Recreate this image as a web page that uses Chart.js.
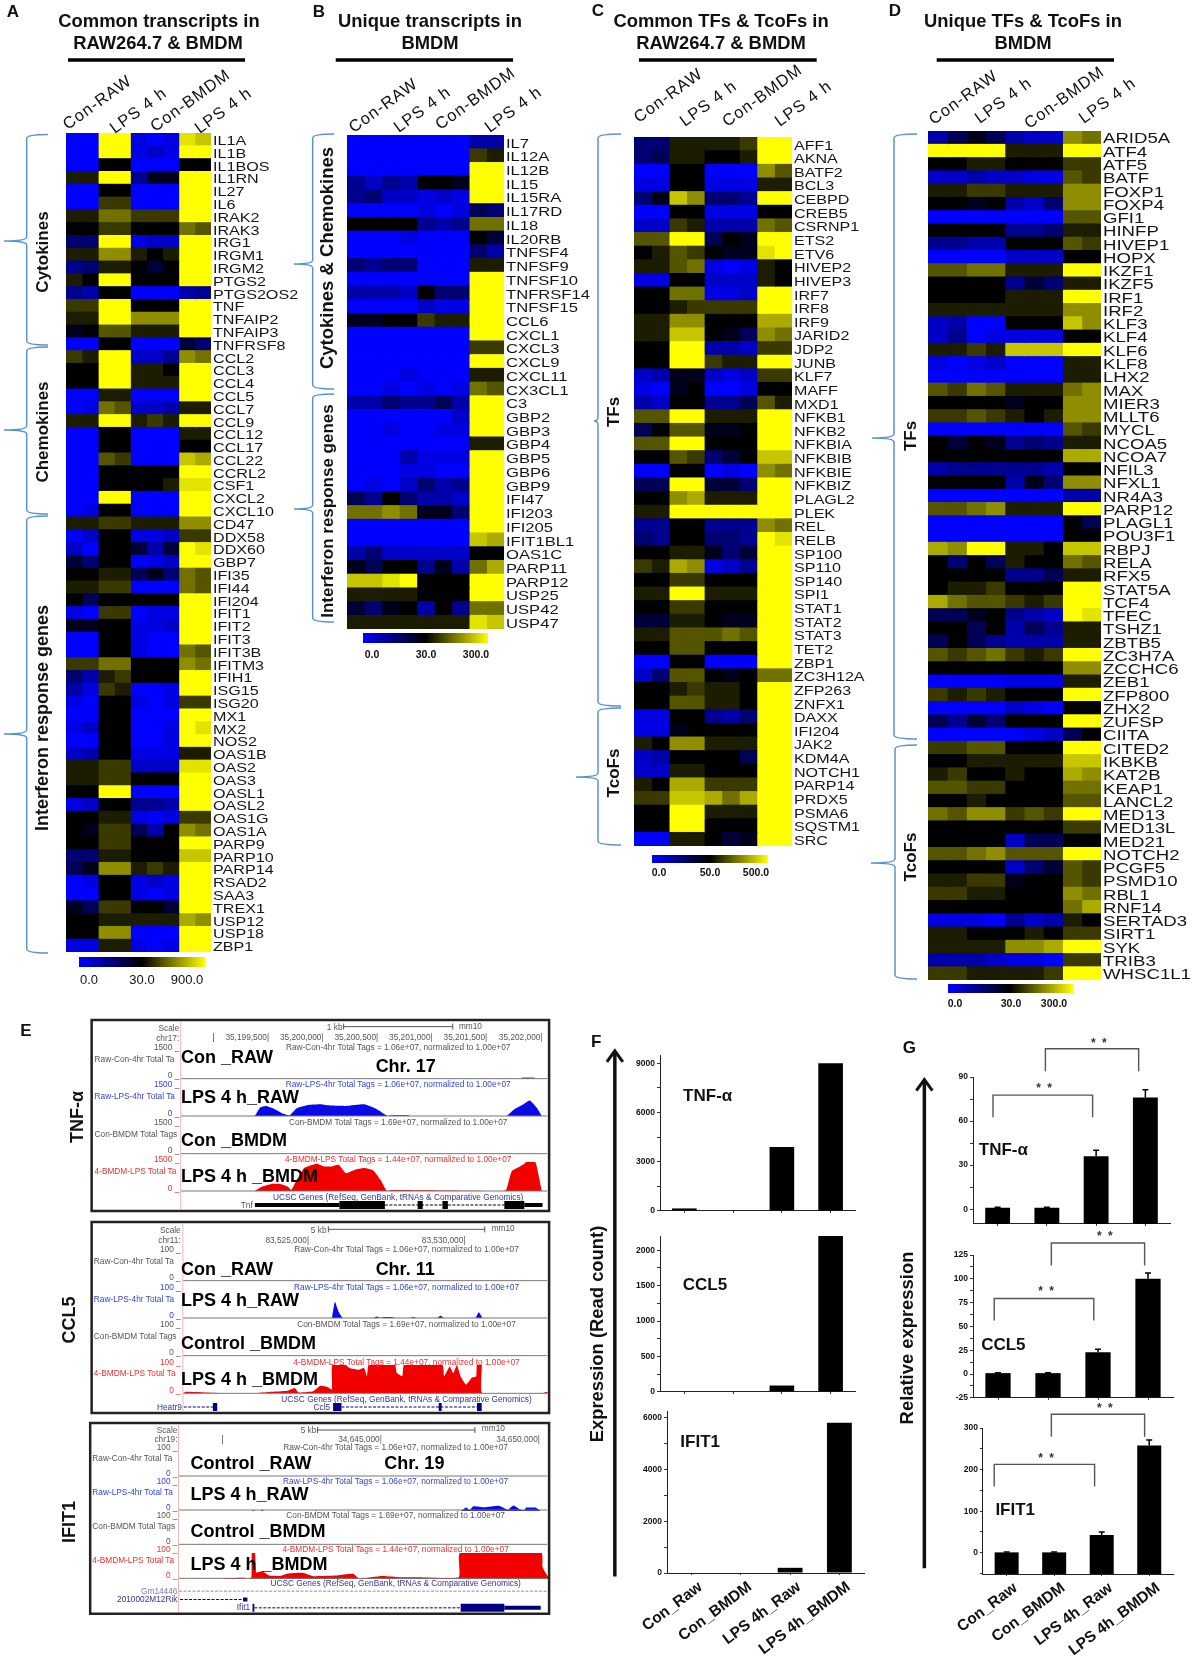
<!DOCTYPE html>
<html><head><meta charset="utf-8">
<script src="https://cdn.jsdelivr.net/npm/chart.js@4"></script>
<style>
html,body{margin:0;padding:0;background:#fff}
#page{position:relative;width:1192px;height:1664px;overflow:hidden;background:#fff;font-family:"Liberation Sans",Arial,sans-serif}
#page canvas{position:absolute;display:block}
#page svg{position:absolute;left:0;top:0;z-index:3}
.t{position:absolute;white-space:nowrap;z-index:5;line-height:1;color:#111}
</style></head><body><div id="page"></div>
<script>
// ---------- DATA ----------
const genesA=["IL1A","IL1B","IL1BOS","IL1RN","IL27","IL6","IRAK2","IRAK3","IRG1","IRGM1","IRGM2","PTGS2","PTGS2OS2","TNF","TNFAIP2","TNFAIP3","TNFRSF8","CCL2","CCL3","CCL4","CCL5","CCL7","CCL9","CCL12","CCL17","CCL22","CCRL2","CSF1","CXCL2","CXCL10","CD47","DDX58","DDX60","GBP7","IFI35","IFI44","IFI204","IFIT1","IFIT2","IFIT3","IFIT3B","IFITM3","IFIH1","ISG15","ISG20","MX1","MX2","NOS2","OAS1B","OAS2","OAS3","OASL1","OASL2","OAS1G","OAS1A","PARP9","PARP10","PARP14","RSAD2","SAA3","TREX1","USP12","USP18","ZBP1"];
const levelsA=[
[-9,-9,9,9,-8,-9,-8,8,7],[-9,-9,9,9,-8,-7,-8,9,9],[-9,-9,0,0,-9,-9,-9,0,0],[1,1,9,9,-5,-1,-1,9,9],[-9,-9,0,0,-9,-9,-9,9,9],[-9,-9,2,2,-9,-9,-9,9,9],[1,1,4,4,2,2,2,9,9],[0,0,2,2,0,0,0,4,3],[-4,-4,9,9,-8,-7,-7,9,9],[1,1,5,5,1,0,1,9,9],[-5,-4,1,1,0,-2,0,9,9],[1,0,9,9,0,0,0,9,9],[-5,-6,0,0,-9,-9,-9,-6,-5],[2,2,9,9,0,0,0,9,9],[1,1,9,9,5,5,5,9,9],[-1,0,3,3,1,1,1,9,9],[-9,-9,0,0,-9,-9,-9,-2,-4],
[2,1,9,9,-7,-7,-5,5,4],[0,0,9,9,1,1,0,9,9],[0,0,9,9,1,1,1,9,9],[-9,-9,1,1,-9,-9,-9,9,9],[-9,-8,4,3,-7,-7,-6,1,1],[1,1,9,9,1,2,1,9,9],[-9,-9,0,0,-9,-9,-9,1,1],[-9,-9,0,0,-9,-9,-9,0,0],[-9,-9,3,2,-9,-9,-9,7,6],[-9,-9,0,0,0,0,0,9,9],[-9,-9,0,0,0,0,1,8,8],[-9,-9,9,9,-9,-9,-9,9,9],[-9,-8,0,0,-9,-9,-9,9,9],
[1,1,2,2,1,1,1,5,5],[-9,-7,0,0,-8,-8,-7,2,2],[-7,-9,0,0,-2,-6,-2,9,8],[-2,-4,0,0,-9,-8,-7,9,9],[0,0,1,1,-3,-1,-4,4,3],[1,1,2,2,-9,-9,-9,4,3],[0,-3,0,0,0,0,0,9,9],[-8,-9,2,2,-9,-8,-8,9,9],[-1,-1,0,0,-8,-8,-7,9,9],[-9,-9,0,0,-8,-9,-9,9,9],[-9,-9,0,0,-8,-9,-9,4,3],[2,2,4,4,0,0,0,5,4],[-4,-6,1,2,0,0,0,9,9],[-6,-8,2,1,-9,-9,-8,9,9],[-8,-9,0,0,-8,-9,-8,2,2],[-9,-9,0,0,-9,-9,-9,9,9],[-8,-7,0,0,-9,-9,-8,9,8],[-9,-9,0,0,-9,-9,-8,9,9],[-7,-6,0,0,-8,-8,-8,1,1],[1,1,2,2,-7,-7,-7,8,8],[1,1,2,2,0,0,0,9,9],[0,0,9,9,-9,-9,-9,9,9],[-8,-7,0,0,-5,-5,-6,9,9],[0,0,1,1,-8,-9,-8,2,2],[0,-1,2,2,-3,-6,0,5,4],[0,0,2,2,0,0,0,9,9],[-4,-4,1,1,0,0,0,7,7],[-3,-1,5,5,1,2,1,9,9],[-9,-8,0,0,-8,-7,-8,9,9],[-9,-9,0,0,-8,-9,-8,9,9],[-1,-3,2,2,0,0,-2,9,9],[0,0,1,1,1,1,1,6,5],[0,0,5,5,-9,-9,-9,9,9],[-8,-8,1,1,-8,-9,-8,9,9]];
const genesB=["IL7","IL12A","IL12B","IL15","IL15RA","IL17RD","IL18","IL20RB","TNFSF4","TNFSF9","TNFSF10","TNFRSF14","TNFSF15","CCL6","CXCL1","CXCL3","CXCL9","CXCL11","CX3CL1","C3","GBP2","GBP3","GBP4","GBP5","GBP6","GBP9","IFI47","IFI203","IFI205","IFIT1BL1","OAS1C","PARP11","PARP12","USP25","USP42","USP47"];
const levelsB=[
[-9,-9,-9,-9,-9,-9,-9,-6,-6],[-9,-9,-9,-9,-9,-9,-9,2,1],[-9,-9,-9,-9,-9,-9,-9,9,9],[-5,-7,-5,-6,0,0,-1,9,9],[-5,-4,-7,-7,-8,-7,-8,9,9],[-9,-9,-9,-9,-8,-9,-8,-3,-4],[0,0,0,0,-5,-6,-5,4,4],[-9,-9,-9,-8,-9,-9,-9,0,-2],[-9,-9,-9,-9,-9,-9,-9,-4,-6],[-4,-5,-4,-4,-9,-9,-9,1,1],[-9,-9,-9,-9,-9,-9,-9,9,9],[-6,-6,-6,-7,0,-4,-4,9,9],[-9,-9,-9,-9,-7,-8,-8,9,9],[-1,-1,0,0,2,1,1,9,9],[-9,-9,-9,-9,-9,-9,-9,9,9],[-9,-9,-9,-9,-9,-9,-9,2,2],[-9,-9,-9,-9,-9,-9,-9,9,9],[-9,-9,-9,-8,-9,-9,-9,1,1],[-9,-9,-8,-9,-8,-9,-8,4,3],
[-6,-6,-4,-5,-5,-3,-6,9,9],[-9,-9,-9,-9,-9,-9,-7,9,9],[-9,-9,-8,-9,-9,-8,-8,9,9],[-9,-9,-9,-9,-9,-9,-9,1,1],[-9,-9,-9,-6,-8,-8,-8,9,9],[-9,-9,-9,-8,-8,-9,-9,9,9],[-9,-8,-9,-7,-4,-6,-5,9,9],[-3,-5,0,-4,-6,-6,-7,9,9],[4,4,5,4,-1,-1,-4,9,9],[-9,-9,-9,-9,-9,-9,-9,9,9],[-9,-9,-9,-9,-9,-9,-9,7,6],[-6,-4,-7,-7,-7,-7,-7,0,0],[-1,-3,0,0,-5,-1,-6,4,6],[7,7,8,9,0,0,0,9,9],[1,1,1,1,0,0,0,9,9],[-2,-4,-1,0,-6,0,-5,4,4],[1,1,1,1,1,1,1,8,7]];
const genesC=["AFF1","AKNA","BATF2","BCL3","CEBPD","CREB5","CSRNP1","ETS2","ETV6","HIVEP2","HIVEP3","IRF7","IRF8","IRF9","JARID2","JDP2","JUNB","KLF7","MAFF","MXD1","NFKB1","NFKB2","NFKBIA","NFKBIB","NFKBIE","NFKBIZ","PLAGL2","PLEK","REL","RELB","SP100","SP110","SP140","SPI1","STAT1","STAT2","STAT3","TET2","ZBP1","ZC3H12A","ZFP263","ZNFX1","DAXX","IFI204","JAK2","KDM4A","NOTCH1","PARP14","PRDX5","PSMA6","SQSTM1","SRC"];
const levelsC=[
[-4,-4,1,1,1,1,2,9,9],[-4,-3,1,1,0,0,1,9,9],[-9,-9,0,0,-9,-9,-9,5,3],[-8,-8,0,0,-8,-8,-8,1,1],[-4,-1,7,5,-4,-4,-5,9,9],[-9,-9,0,0,-8,-8,-8,0,0],[-7,-7,2,1,-6,-6,-6,4,3],[3,3,9,9,-3,0,-1,9,9],[0,1,3,2,0,-1,-1,8,9],[1,1,3,4,-8,-9,-8,1,0],[-8,-8,0,0,-7,-7,-7,1,0],[0,0,4,4,-8,-8,-7,9,9],[0,0,1,2,2,2,2,9,9],[1,1,5,5,0,0,0,6,6],[1,1,7,7,0,-1,-3,5,4],[0,0,9,9,-6,-6,-7,2,2],[0,0,9,9,2,1,1,9,9],[-7,-6,-1,-1,-7,-8,-7,2,2],[-8,-9,-1,0,-9,-9,-8,0,0],[-6,-7,0,0,-5,-5,-3,3,1],[3,3,9,9,1,1,1,9,9],[-3,0,3,3,-1,-1,0,9,9],[3,3,9,9,0,0,0,9,9],[0,0,3,2,-4,-2,0,7,7],[-9,-9,0,0,-9,-8,-9,5,4],[-3,-3,9,9,-2,-2,-4,9,9],[0,0,5,6,1,1,1,9,9],[1,1,9,9,9,9,9,9,9],[-5,-5,0,0,-5,-5,-5,5,4],[-4,-5,0,0,-4,-4,-5,9,8],[0,0,1,1,-1,-4,-2,9,9],[2,1,6,5,-8,-7,-5,9,9],[0,0,2,2,0,0,0,9,9],[1,1,9,9,1,1,1,9,9],[0,0,2,2,0,0,0,9,9],[-2,-2,1,1,0,-1,-1,9,9],[1,1,3,3,3,4,3,9,9],[0,0,3,3,0,0,0,9,9],[-9,-9,0,0,-9,-9,-9,9,9],[-7,-4,3,3,0,-1,0,4,4],[0,0,1,2,1,1,0,9,9],[0,0,3,3,1,1,0,9,9],
[-8,-8,0,0,-5,-6,-4,9,9],[-8,-8,-1,0,0,0,0,9,9],[1,0,5,5,1,1,1,9,9],[-7,-6,0,0,0,0,-3,9,9],[-7,-7,1,1,0,0,0,9,9],[1,0,6,6,2,2,2,9,9],[2,2,7,7,6,4,6,9,9],[0,0,9,9,1,1,1,9,9],[0,0,9,9,0,0,0,9,9],[-9,-9,1,1,0,-2,-1,9,9]];
const genesD=["ARID5A","ATF4","ATF5","BATF","FOXP1","FOXP4","GFI1","HINFP","HIVEP1","HOPX","IKZF1","IKZF5","IRF1","IRF2","KLF3","KLF4","KLF6","KLF8","LHX2","MAX","MIER3","MLLT6","MYCL","NCOA5","NCOA7","NFIL3","NFXL1","NR4A3","PARP12","PLAGL1","POU3F1","RBPJ","RELA","RFX5","STAT5A","TCF4","TFEC","TSHZ1","ZBTB5","ZC3H7A","ZCCHC6","ZEB1","ZFP800","ZHX2","ZUFSP","CIITA","CITED2","IKBKB","KAT2B","KEAP1","LANCL2","MED13","MED13L","MED21","NOTCH2","PCGF5","PSMD10","RBL1","RNF14","SERTAD3","SIRT1","SYK","TRIB3","WHSC1L1"];
const levelsD=[
[-6,-3,-1,-3,-6,-7,-7,5,4],[9,9,9,9,1,1,1,9,9],[0,0,1,1,0,0,0,2,2],[-7,-7,-6,-7,-7,-8,-8,3,2],[1,1,2,2,1,1,1,5,5],[0,0,-1,0,-6,-7,-4,5,5],[-9,-9,-9,-9,-9,-9,-9,3,3],[0,0,0,0,-5,-5,-4,1,1],[-5,-5,-6,-6,0,0,0,3,2],[-9,-9,-9,-9,-7,-7,-7,0,0],[3,3,4,4,1,1,1,9,9],[0,0,0,0,-5,-2,-4,1,1],[0,0,0,0,1,1,1,9,9],[1,1,1,1,1,1,1,5,5],[-7,-6,-9,-9,0,0,0,7,5],[-7,-5,-9,-8,-8,-8,-8,0,0],[1,1,2,1,7,7,7,9,9],[-8,-9,-8,-7,-9,-9,-9,1,1],[-9,-9,-9,-9,-9,-9,-9,1,1],[3,2,4,3,1,1,1,4,5],[0,0,0,0,-1,0,0,5,5],[2,2,3,2,1,0,1,5,5],[-9,-9,-9,-9,-9,-9,-9,3,2],[0,-2,0,-1,-5,-4,-5,1,1],[0,0,0,0,0,0,0,6,6],[-6,-5,-5,-5,-5,-5,-6,0,0],[0,0,0,0,-6,-1,-4,5,5],[-9,-9,-9,-9,-9,-9,-9,-6,-6],[3,3,4,5,1,1,1,9,9],[-9,-9,-9,-9,-9,-9,-9,0,-3],[-9,-9,-9,-9,-9,-9,-9,0,0],[6,5,9,9,1,1,0,7,7],[0,-4,0,-3,1,0,0,4,3],[0,0,0,0,-5,-5,-3,1,1],[0,1,1,2,0,0,0,9,9],[6,4,3,3,2,1,2,9,9],[-3,-3,-1,0,-5,-6,-7,9,8],[0,0,-3,0,-6,-3,-5,1,1],[-3,0,-3,-5,-6,-6,-6,1,1],[3,2,3,4,2,1,2,9,9],[0,0,0,0,0,0,0,5,5],[-9,-9,-9,-9,-8,-8,-8,1,1],[2,1,2,1,0,0,0,9,9],[-9,-9,-9,-9,-7,-8,-9,0,0],[-3,-5,-2,-4,0,0,0,9,9],[-9,-9,-9,-9,-9,-8,-7,-3,0],
[2,2,3,3,0,0,0,9,9],[0,0,1,1,1,1,1,7,7],[1,2,0,0,1,0,0,6,5],[3,3,2,2,0,0,0,4,4],[0,0,1,0,0,0,0,3,3],[4,3,5,5,2,3,2,9,9],[0,0,0,0,0,0,0,2,2],[0,0,0,0,-7,-3,-3,0,0],[3,3,4,5,3,3,3,9,9],[0,0,0,0,-7,-4,-2,3,2],[1,1,2,2,-1,0,0,3,2],[2,2,1,1,0,0,0,5,4],[0,0,0,0,0,0,0,4,6],[-8,-8,-8,-9,-5,-7,-6,1,0],[1,1,0,0,0,1,0,2,2],[1,1,1,1,5,5,6,9,9],[-6,-6,-6,-7,-8,-8,-9,2,2],[2,2,1,1,1,1,2,9,9]];

const sampleLabels=["Con_Raw","Con_BMDM","LPS 4h_Raw","LPS 4h_BMDM"];
const readTnf=[150,30,3900,9000], readCcl5=[0,0,90,2200], readIfit1=[0,0,200,5800];
const relTnf=[1,1,36,76], relTnfErr=[0.3,0.3,4.2,5.3];
const relCcl5=[1,1,23,100], relCcl5Err=[0.5,0.5,3,6];
const relIfit1=[1,1,43,258], relIfit1Err=[1,1,7,13];
const ticksReadTnf=[0,1500,3000,4500,6000,7500,9000], ticksReadCcl5=[0,250,500,750,1000,1250,1500,1750,2000], ticksReadIfit1=[0,1000,2000,3000,4000,5000,6000];
const ticksRelTnf=[0,15,30,45,60,75,90], ticksRelCcl5=[-25,-12.5,0,12.5,25,37.5,50,62.5,75,87.5,100,112.5,125], ticksRelIfit1=[-50,0,50,100,150,200,250,300];

const tnfBlueX=[203,218,233,253,278,298,318,353,383,413,453,503,533,563,568,583,623,628,893,913,938,958,978,991];
const tnfBlueY=[0,453,523,401,140,35,401,576,610,541,523,610,401,52,0,35,35,0,0,314,576,802,401,0];
const tnfRedX=[203,223,248,273,293,303,318,338,353,373,393,413,433,453,478,503,528,548,563,568,578,883,893,908,923,943,948,973,981,991];
const tnfRedY=[0,227,366,366,227,52,576,1186,1308,1413,1273,1273,1360,924,1099,1186,1064,576,52,0,52,0,52,1012,1186,1413,1500,1500,924,0];
const ccl5BlueX=[409,417,427,439,522,532,542,552,572,582,622,632,642,697,707,717,802,812,822];
const ccl5BlueY=[0,56,22,0,0,5,0,3.5,3.5,0,0,3.5,0,0,8,0,0,20,0];
const ccl5RedX=[0,7,57,117,197,237,287,307,317,357,377,397,409,410,447,457,482,497,505,510,582,587,602,607,712,717,732,742,752,762,777,792,805,807,820,822,987,997,1002];
const ccl5RedY=[0,4,2,0,0,4,8,18,2,6,26,21,12,100,100,89,83,89,60,100,100,71,60,100,100,60,95,71,100,60,30,54,60,100,100,0,0,4,2];
const ifitBlueX=[200,204,208,224,229,234,374,377,381,774,789,799,809,839,879,904,919,934,949,954,979,994];
const ifitBlueY=[0,5,0,0,5,0,0,4,0,0,13,4,18,14,20,5,21,9,3,13,13,0];
const ifitRedX=[119,124,179,189,199,200,209,212,229,249,279,299,339,369,429,479,494,559,609,659,769,772,996,999,1009,1014];
const ifitRedY=[0,3,5,0,7,100,100,26,29,13,12,21,24,11,13,20,3,12,7,7,7,100,100,46,20,9];

// gene models: [start, end, row, kind] along the browser window
const tnfGene=[[560,888,0,"intron"],[203,435,0,"utr"],[435,560,0,"exon"],[650,664,0,"exon"],[718,733,0,"exon"],[888,943,0,"exon"],[943,993,0,"utr"]];
const ccl5Gene=[[2,82,0,"intron"],[82,94,0,"exon"],[435,817,0,"intron"],[412,435,0,"exon"],[702,710,0,"exon"],[807,820,0,"exon"]];
const ifitGene=[[0,1014,0,"intron"],[3,176,1,"intron"],[176,188,1,"utr"],[207,774,2,"intron"],[202,207,2,"exon"],[774,894,2,"exon"],[894,994,2,"utr"]];

// ---------- HELPERS ----------
const page=document.getElementById('page');
const ZX=2.75;                           // browser-panel horizontal reading scale
const fx=z=>570+z/2.52, fy=z=>1020+z/2.435; // panels F, G reading scale
Chart.defaults.animation=false;
Chart.defaults.responsive=false;
Chart.defaults.devicePixelRatio=1;
Chart.defaults.font.family='"Liberation Sans",Arial,sans-serif';
Chart.defaults.plugins.legend.display=false;
Chart.defaults.plugins.tooltip.enabled=false;

function cv(x,y,w,h){
  const c=document.createElement('canvas');
  const X=Math.round(x),Y=Math.round(y);
  c.width=Math.ceil(w);c.height=Math.ceil(h);
  c.style.left=X+'px';c.style.top=Y+'px';
  c.style.width=c.width+'px';c.style.height=c.height+'px';
  page.appendChild(c);
  return c;
}
function T(x,y,s,o={}){
  const d=document.createElement('div');d.className='t';d.textContent=s;
  const a=o.a||'c';
  const tr=a==='c'?'translate(-50%,-50%)':a==='r'?'translate(-100%,-50%)':'translate(0,-50%)';
  d.style.left=x+'px';d.style.top=y+'px';
  d.style.transform=tr+(o.rot?` rotate(${o.rot}deg)`:'')+(o.sx?` scaleX(${o.sx})`:'');
  d.style.fontSize=(o.fs||12)+'px';
  d.style.fontWeight=o.w||'normal';
  if(o.c)d.style.color=o.c;
  if(o.ls)d.style.letterSpacing=o.ls+'px';
  if(o.ws)d.style.wordSpacing=o.ws+'px';
  page.appendChild(d);
}
function levelColor(v){
  const k=Math.min(1,Math.abs(v)/9);
  return v<0?`rgb(0,0,${Math.round(255*k)})`:`rgb(${Math.round(255*k)},${Math.round(255*k)},0)`;
}
const stretchLabels={id:'stretchLabels',afterDraw(ch,a,opts){
  const s=ch.scales.y,ctx=ch.ctx;
  ctx.save();ctx.font=opts.font;ctx.fillStyle='#151515';ctx.textBaseline='middle';ctx.textAlign='left';
  s.getLabels().forEach((lab,i)=>{
    ctx.save();
    ctx.translate(ch.chartArea.right+opts.pad,s.getPixelForValue(i)+opts.dy);
    ctx.scale(opts.sx,1);
    ctx.fillText(lab,0,0);
    ctx.restore();
  });
  ctx.restore();
}};
function heatmap(x0,x1,y0,y1,genes,rows,font,sx,dy,pad){
  const lw=110;
  const c=cv(x0,y0,x1-x0+lw,y1-y0);
  const n=rows[0].length;
  new Chart(c,{type:'bar',plugins:[stretchLabels],data:{labels:genes,datasets:Array.from({length:n},(_,j)=>({
    data:rows.map(()=>[j,j+1]),
    backgroundColor:rows.map(r=>levelColor(r[j])),
    borderWidth:0,grouped:false,barPercentage:1,categoryPercentage:1,inflateAmount:0.4
  }))},options:{indexAxis:'y',layout:{padding:{right:lw},autoPadding:false},
    scales:{x:{type:'linear',min:0,max:n,display:false},y:{type:'category',display:false}},
    plugins:{stretchLabels:{font,sx,dy,pad}}}});
}
const errorBars={id:'errorBars',afterDatasetsDraw(ch,a,opts){
  if(!opts.errs)return;
  const y=ch.scales.y,ctx=ch.ctx,meta=ch.getDatasetMeta(0),vals=ch.data.datasets[0].data;
  ctx.save();ctx.strokeStyle='#000';ctx.lineWidth=1.5;
  opts.errs.forEach((e,i)=>{
    const px=meta.data[i].x,p0=y.getPixelForValue(vals[i]),p1=y.getPixelForValue(vals[i]+e);
    ctx.beginPath();ctx.moveTo(px,p0);ctx.lineTo(px,p1);ctx.moveTo(px-3,p1);ctx.lineTo(px+3,p1);ctx.stroke();
  });
  ctx.restore();
}};
function barPanel(o){
  const padL=34,padT=8,padR=6,xh=o.showX?88:6;
  const c=cv(o.left-padL,o.top-padT,o.right-o.left+padL+padR,o.bottom-o.top+padT+xh);
  new Chart(c,{type:'bar',plugins:[errorBars],data:{labels:sampleLabels,datasets:[{
    data:o.values,backgroundColor:'#000',borderWidth:0,barPercentage:0.505,categoryPercentage:1,
    base:o.base===undefined?0:o.base}]},
    options:{layout:{autoPadding:false,padding:{left:0,top:padT,right:padR,bottom:0}},
    plugins:{errorBars:{errs:o.errs}},
    scales:{
      x:{type:'category',afterFit:s=>{s.height=xh},
        grid:{display:true,drawOnChartArea:false,drawTicks:true,tickLength:2,tickColor:'#333',offset:false},
        border:{color:'#222',width:1},
        ticks:{display:!!o.showX,autoSkip:false,minRotation:37,maxRotation:37,padding:3,labelOffset:9,color:'#111',font:{size:15.5,weight:'bold'}}},
      y:{type:'linear',min:o.min,max:o.max,afterFit:s=>{s.width=padL},
        afterBuildTicks:s=>{s.ticks=o.ticks.map(v=>({value:v}))},
        grid:{display:true,drawOnChartArea:false,drawTicks:true,tickLength:3,tickColor:'#333'},
        border:{color:'#222',width:1},
        ticks:{autoSkip:false,padding:2,color:'#111',font:{size:8.5,weight:'bold'},
          callback:v=>(Math.abs(v%o.labelStep)<1e-6?String(v):'')}}
    }}});
}
function track(zx0,zx1,base,h,off,xs,ys,max,col){
  const x=zx0/ZX,w=(zx1-zx0)/ZX,top=off+(base-h)/3;
  const c=cv(x,top-1,w,h/3+1);
  const pts=xs.map((v,i)=>({x:v,y:ys[i]}));
  new Chart(c,{type:'line',data:{datasets:[
    {data:pts,borderWidth:0,pointRadius:0,fill:'origin',backgroundColor:col,tension:0.15,clip:false},
    {data:xs.map((v,i)=>({x:v,y:ys[i]>=max?max:null})),borderColor:'#f028e0',borderWidth:1.5,pointRadius:0,fill:false,spanGaps:false}
  ]},options:{layout:{autoPadding:false,padding:{top:1}},scales:{x:{type:'linear',min:0,max:zx1-zx0,display:false},y:{type:'linear',min:0,max:max,display:false}}}});
}
function gene(zx0,zx1,yTop,yBot,rows,segs,colFor){
  const c=cv(zx0/ZX,yTop,(zx1-zx0)/ZX,yBot-yTop);
  const W={intron:1,utr:4,exon:8};
  new Chart(c,{type:'line',data:{datasets:segs.map(s=>({
    data:[{x:s[0],y:s[2]},{x:s[1],y:s[2]}],borderColor:colFor(s),borderWidth:W[s[3]],pointRadius:0,
    borderDash:s[3]==='intron'?[3,1.5]:[],borderCapStyle:'butt',clip:false}))},
    options:{layout:{autoPadding:false},scales:{x:{type:'linear',min:0,max:zx1-zx0,display:false},y:{type:'linear',reverse:true,min:-0.5,max:rows-0.5,display:false}}}});
}

// ---------- HEATMAPS ----------
heatmap(66,211,133.3,952,genesA,levelsA,'13px "Liberation Sans"',1.24,2,2);
heatmap(346.7,503.3,134.7,628,genesB,levelsB,'13.5px "Liberation Sans"',1.23,2,2);
heatmap(634,791.7,137,845.3,genesC,levelsC,'13.5px "Liberation Sans"',1.19,2,2);
heatmap(927.7,1100,130.7,979.3,genesD,levelsD,'14px "Liberation Sans"',1.33,2,2);

// ---------- BAR PANELS ----------
barPanel({left:fx(228),right:fx(718),top:fy(85),bottom:fy(466),min:0,max:9500,ticks:ticksReadTnf,labelStep:3000,values:readTnf});
barPanel({left:fx(228),right:fx(718),top:fy(527),bottom:fy(907),min:0,max:2200,ticks:ticksReadCcl5,labelStep:500,values:readCcl5});
barPanel({left:fx(233),right:fx(741),top:fy(952),bottom:fy(1346),min:0,max:6250,ticks:ticksReadIfit1,labelStep:2000,values:readIfit1,showX:true});
barPanel({left:fx(1015),right:fx(1510),top:fy(138),bottom:fy(496),min:-10,max:90,ticks:ticksRelTnf,labelStep:30,values:relTnf,errs:relTnfErr,base:-10});
barPanel({left:fx(1015),right:fx(1517),top:fy(572),bottom:fy(921),min:-25,max:125,ticks:ticksRelCcl5,labelStep:25,values:relCcl5,errs:relCcl5Err,base:-25});
barPanel({left:fx(1025),right:fx(1517),top:fy(993),bottom:fy(1348),min:-51,max:300,ticks:ticksRelIfit1,labelStep:100,values:relIfit1,errs:relIfit1Err,base:-51,showX:true});

// ---------- BROWSER TRACKS ----------
track(497,1505,318,86,1010,tnfBlueX,tnfBlueY,1500,'#0a0ae6');
track(497,1505,543,86,1010,tnfRedX,tnfRedY,1500,'#f20000');
track(503,1505,924,86,1010,ccl5BlueX,ccl5BlueY,100,'#0a0ae6');
track(503,1505,1150,84,1010,ccl5RedX,ccl5RedY,100,'#f20000');
track(491,1505,330,76,1400,ifitBlueX,ifitBlueY,100,'#0a0ae6');
track(491,1505,535,76,1400,ifitRedX,ifitRedY,100,'#f20000');
gene(497,1505,1199.5,1209.5,1,tnfGene,()=>'#000');
gene(503,1505,1402,1412,1,ccl5Gene,()=>'#000080');
gene(491,1505,1586.5,1611.5,3,ifitGene,s=>s[2]===0?'#8a8ac8':'#000080');

// ---------- OVERLAY LINES ----------
const NS='http://www.w3.org/2000/svg';
const svg=document.createElementNS(NS,'svg');svg.setAttribute('width',1192);svg.setAttribute('height',1664);page.appendChild(svg);
function P(d,st,w,fill){const p=document.createElementNS(NS,'path');p.setAttribute('d',d);p.setAttribute('stroke',st);p.setAttribute('stroke-width',w);p.setAttribute('fill',fill||'none');svg.appendChild(p);}
function brace(xv,xTip,xApex,y0,y1,ya){
  P(`M${xTip},${y0} Q${xv},${y0} ${xv},${y0+4} L${xv},${ya-4} Q${xv},${ya} ${xApex},${ya} Q${xv},${ya} ${xv},${ya+4} L${xv},${y1-4} Q${xv},${y1} ${xTip},${y1}`,'#5b93cf',1.5);
}
brace(26.7,48,4,134.5,345,241);brace(26.7,48,4,347,514,430);brace(26.7,48,4,516,953,734);
brace(312.7,334,294,134,389,264);brace(312.7,334,294,394,622,509);
brace(598,621,594,134,706,421);brace(598,621,576,708,845,777);
brace(894,917,872,134,739,438);brace(895,917,871,745,979,863);

// header rules
[[68,245,60],[335.7,513,60],[639,816.7,60],[936.7,1114,60]].forEach(r=>P(`M${r[0]},${r[2]} L${r[1]},${r[2]}`,'#000',3.5));

// browser frames and baselines
[[252/ZX,1020,1258/ZX,191],[252/ZX,1222,1258/ZX,191],[248/ZX,1423,1262/ZX,190.7]].forEach(r=>P(`M${r[0]},${r[1]} h${r[2]} v${r[3]} h${-r[2]} Z`,'#222',2.5));
[[497,1010,[206,318,431,543]],[503,1010,[812,924,1037,1150]],[491,1400,[228,330,433,535]]].forEach(b=>{
  const x0=b[0]/ZX,off=b[1];
  b[2].forEach(y=>P(`M${x0},${off+y/3} L${1505/ZX},${off+y/3}`,'#777',1));
});
P(`M${497/ZX},1022 V1209`,'#f7b5b5',1);P(`M${503/ZX},1224 V1411`,'#f7b5b5',1);P(`M${491/ZX},1425 V1612`,'#f7b5b5',1);
// scale bars
function sbar(a,b,y){P(`M${a},${y} H${b} M${a},${y-3} V${y+3} M${b},${y-3} V${y+3}`,'#555',1);}
sbar(945/ZX,1245/ZX,1010+50/3);sbar(903/ZX,1333/ZX,1010+658/3);sbar(873/ZX,1306/ZX,1400+90/3);
P(`M${1435/ZX},${1010+204/3} H${1470/ZX}`,'#555',1);

// arrows
function arrow(x,y1,y0){P(`M${x},${y1} V${y0+2}`,'#111',3.5);P(`M${x-8},${y0+11} L${x},${y0} L${x+8},${y0+11}`,'#111',3);}
arrow(fx(113),fy(1355),fy(75));arrow(fx(893),fy(1335),fy(145));

// significance brackets
function sig(a,b,c,d){P(`M${fx(a)},${fy(b)} V${fy(d)} H${fx(c)} V${fy(b)}`,'#555',1.4);}
sig(1198,125,1433,70);sig(1066,237,1317,183);sig(1213,598,1448,543);sig(1069,732,1320,678);sig(1213,1015,1448,960);sig(1069,1136,1322,1082);

// ---------- TEXT ----------
[["A",13,11],["B",319,11],["C",598,10],["D",895,10],["E",26,1030],["F",fx(66),fy(52)],["G",fx(855),fy(65)]].forEach(l=>T(l[1],l[2],l[0],{fs:17,w:'bold'}));
function head(x,y,s){T(x,y,s,{fs:18.4,w:'bold'});}
head(159,21,"Common transcripts in");head(158,43,"RAW264.7 & BMDM");
head(430,21,"Unique transcripts in");head(430,43,"BMDM");
head(721,21,"Common TFs & TcoFs in");head(721,43,"RAW264.7 & BMDM");
head(1023,21,"Unique TFs & TcoFs in");head(1023,43,"BMDM");

function cols(list){list.forEach(c=>T(c[1],c[2],c[0],{fs:16.5,rot:-36,ls:1}));}
cols([["Con-RAW",97,102],["LPS 4 h",138,110],["Con-BMDM",190,100],["LPS 4 h",223,110]]);
cols([["Con-RAW",383,105],["LPS 4 h",422,108.6],["Con-BMDM",475,97.6],["LPS 4 h",513,109.4]]);
cols([["Con-RAW",668,95],["LPS 4 h",708,103],["Con-BMDM",762,95],["LPS 4 h",803,103]]);
cols([["Con-RAW",963,97],["LPS 4 h",1003,100],["Con-BMDM",1064,97],["LPS 4 h",1107,100]]);

const vert=(x,y,s,fs,w)=>T(x,y,s,{fs:fs,w:w||'bold',rot:-90});
vert(41.7,252,"Cytokines",17);vert(41.7,432,"Chemokines",17);vert(41.7,718,"Interferon response genes",18);
vert(327,258,"Cytokines & Chemokines",18.5);vert(327,511,"Interferon response genes",17);
vert(613,412,"TFs",17);vert(613,773,"TcoFs",17);vert(910,436,"TFs",17);vert(910,857,"TcoFs",17);

// colour bars
function cbar(x0,x1,y0,y1,labs,ly,fs,w){
  const d=document.createElement('div');
  d.style.cssText=`position:absolute;left:${x0}px;top:${y0}px;width:${x1-x0}px;height:${y1-y0}px;background:linear-gradient(90deg,#0000ff 0%,#000 50%,#ffff00 100%)`;
  page.appendChild(d);
  labs.forEach(l=>T(l[1],ly,l[0],{fs,w}));
}
cbar(79.3,205,956.7,967,[["0.0",89],["30.0",142],["900.0",187]],979,13,'normal');
cbar(363,487.7,633,643,[["0.0",372],["30.0",426],["300.0",476]],654,10.5,'bold');
cbar(651.7,768,855,862.7,[["0.0",659],["50.0",710],["500.0",756]],871.7,10.5,'bold');
cbar(948,1073,984,993.3,[["0.0",955],["30.0",1011],["300.0",1054]],1003,10.5,'bold');

// panel E text
const GREY='#555',BLUE='#3344e0',RED='#ee3030',NAVY='#333399';
const small=(o,zx,zy,s,c,a)=>T(zx/ZX,o+zy/3,s,{fs:8.3,c:c||GREY,a:a||'c'});
const big=(o,zx,zy,s)=>T(zx/ZX,o+zy/3,s,{fs:18,w:'bold',a:'l',c:'#000'});
const titles=["Raw-Con-4hr Total Tags = 1.06e+07, normalized to 1.00e+07","Raw-LPS-4hr Total Tags = 1.06e+07, normalized to 1.00e+07","Con-BMDM Total Tags = 1.69e+07, normalized to 1.00e+07","4-BMDM-LPS Total Tags = 1.44e+07, normalized to 1.00e+07"];
const ucsc="UCSC Genes (RefSeq, GenBank, tRNAs & Comparative Genomics)";
const trackNames=["Raw-Con-4hr Total Ta","Raw-LPS-4hr Total Ta","Con-BMDM Total Tags","4-BMDM-LPS Total Ta"];
const trackCols=[GREY,BLUE,GREY,RED];
function box(o,rx,lx,cx,yTop,yLab,yZero,yTitle,yUcsc,maxLab,chr,yScale,yChr){
  small(o,rx,yScale,"Scale",GREY,'r');small(o,rx,yChr,chr,GREY,'r');
  for(let i=0;i<4;i++){
    small(o,rx,yTop[i],maxLab+" _",trackCols[i],'r');
    small(o,lx,yLab[i],trackNames[i],trackCols[i],'l');
    small(o,rx,yZero[i],"0 _",trackCols[i],'r');
    small(o,cx,yTitle[i],titles[i],trackCols[i]);
  }
  small(o,cx,yUcsc,ucsc,NAVY);
}
box(1010,493,260,1095,[110,223,335,447],[146,259,372,483],[196,308,420,533],[110,222,335,447],560,"1500","chr17:",55,83);
small(1010,942,52,"1 kb",GREY,'r');small(1010,1262,48,"mm10",GREY,'l');
small(1010,590,82,"|",'#333','r');
[["35,199,500|",740],["35,200,000|",890],["35,200,500|",1040],["35,201,000|",1190],["35,201,500|",1340],["35,202,000|",1492]].forEach(t=>small(1010,t[1],82,t[0],GREY,'r'));
small(1010,695,584,"Tnf",GREY,'r');
big(1010,498,140,"Con _RAW");big(1010,1033,168,"Chr. 17");big(1010,498,262,"LPS 4 h_RAW");big(1010,498,390,"Con _BMDM");big(1010,498,498,"LPS 4 h _BMDM");

box(1010,497,258,1118,[717,830,942,1055],[754,866,978,1090],[802,915,1027,1140],[717,830,942,1055],1167,"100","chr11:",661,690);
small(1010,898,660,"5 kb",GREY,'r');small(1010,1352,655,"mm10",GREY,'l');
small(1010,850,690,"83,525,000|",GREY,'r');small(1010,1280,690,"83,530,000|",GREY,'r');
small(1010,500,1191,"Heatr9",NAVY,'r');small(1010,908,1191,"Ccl5",NAVY,'r');
big(1010,498,778,"Con _RAW");big(1010,1033,778,"Chr. 11");big(1010,498,870,"LPS 4 h_RAW");big(1010,498,1000,"Control _BMDM");big(1010,498,1108,"LPS 4 h _BMDM");

box(1400,488,254,1088,[142,244,346,448],[174,276,378,481],[219,321,424,525],[142,244,346,448],550,"100","chr19:",91,118);
small(1400,870,89,"5 kb",GREY,'r');small(1400,1325,85,"mm10",GREY,'l');
small(1400,615,117,"|",'#333','r');small(1400,1050,117,"34,645,000|",GREY,'r');small(1400,1485,117,"34,650,000|",GREY,'r');
small(1400,488,572,"Gm14446",'#7777bb','r');small(1400,488,597,"2010002M12Rik",NAVY,'r');small(1400,688,622,"Ifit1",NAVY,'r');
big(1400,524,190,"Control _RAW");big(1400,1057,190,"Chr. 19");big(1400,524,283,"LPS 4 h_RAW");big(1400,524,393,"Control _BMDM");big(1400,524,493,"LPS 4 h _BMDM");

vert(77,1117,"TNF-α",18);vert(69,1320,"CCL5",18);vert(69,1522,"IFIT1",18);

// panel F and G text
const fg=(a,b,s,fs,w,rot)=>T(fx(a),fy(b),s,{fs,w:w||'bold',rot});
fg(347,182,"TNF-α",17);fg(340,642,"CCL5",17);fg(328,1025,"IFIT1",17);
fg(1092,315,"TNF-α",17);fg(1092,790,"CCL5",17);fg(1122,1190,"IFIT1",17);
fg(68,765,"Expression (Read count)",18.4,'bold',-90);
fg(850,775,"Relative expression",18.4,'bold',-90);
[[1333,55],[1195,166],[1348,525],[1200,660],[1348,945],[1200,1066]].forEach(s=>T(fx(s[0]),fy(s[1]),"* *",{fs:12,w:'bold',ws:3,c:'#333'}));
</script></body></html>
